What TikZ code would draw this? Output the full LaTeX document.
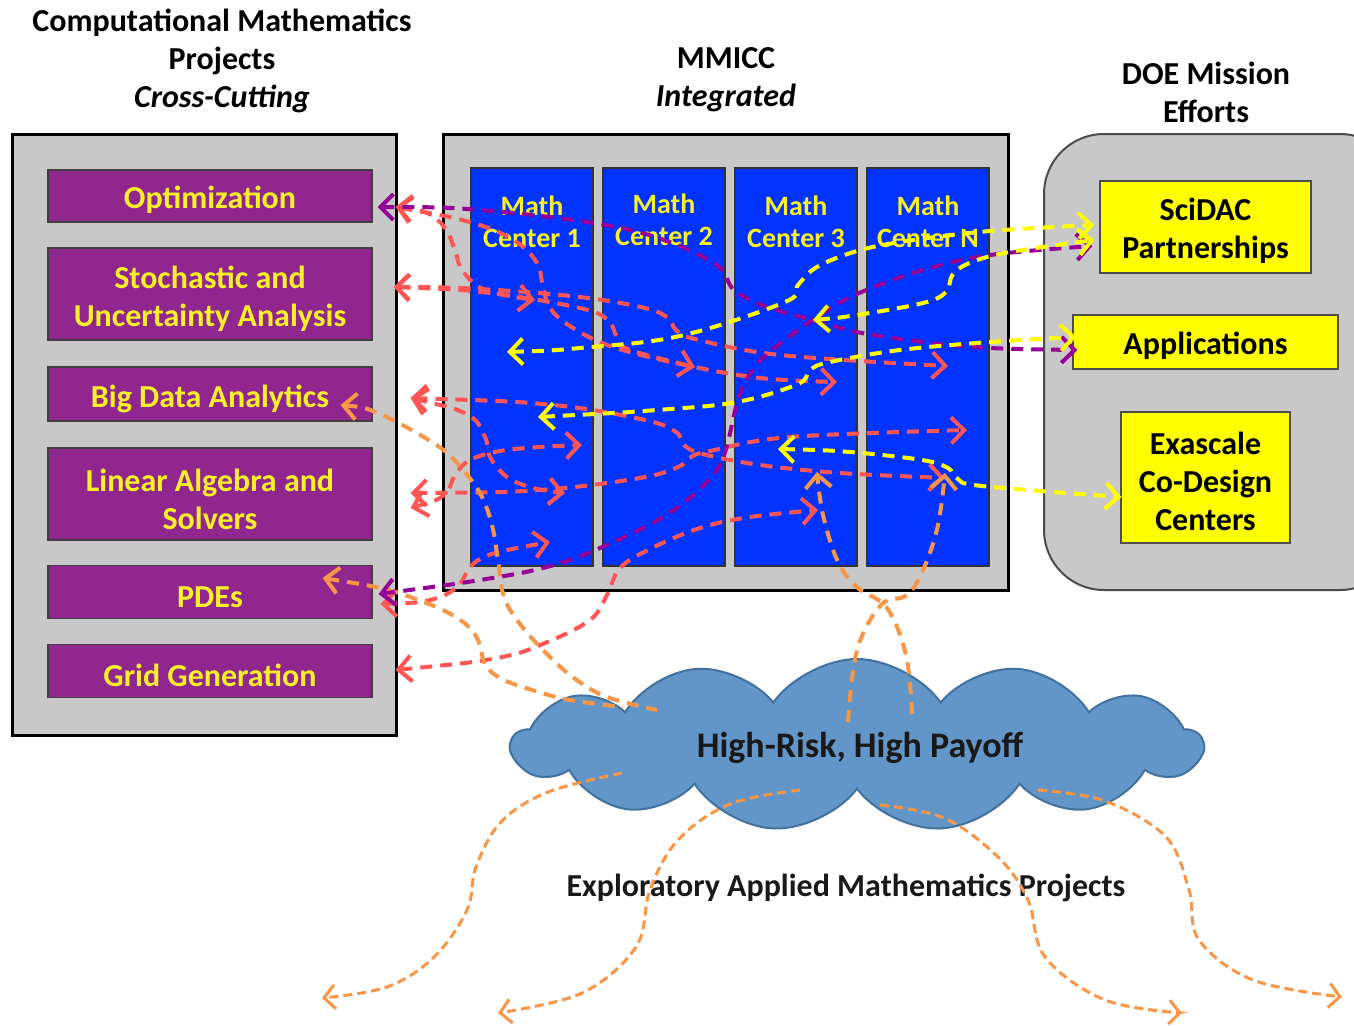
\documentclass[tikz,border=0pt]{standalone}
\usepackage{fontspec}
\setmainfont{Carlito}
\usetikzlibrary{arrows.meta,shapes.symbols}
\definecolor{panelgray}{RGB}{200,200,200}
\definecolor{topicpurple}{RGB}{146,38,143}
\definecolor{arrpurple}{RGB}{150,0,150}
\definecolor{arrred}{RGB}{255,85,85}
\definecolor{arrorange}{RGB}{247,150,70}
\definecolor{colblue}{RGB}{0,51,255}
\definecolor{cloudfill}{RGB}{98,150,200}
\definecolor{cloudline}{RGB}{65,113,156}
\definecolor{boxyellow}{RGB}{255,255,0}
\definecolor{txtyellow}{RGB}{250,240,40}
\newcommand\headfont{\fontsize{32}{38}\selectfont\bfseries}
\newcommand\topicfont{\fontsize{32}{38}\selectfont\bfseries}
\newcommand\colfont{\fontsize{28}{32}\selectfont\bfseries}
\begin{document}
\begin{tikzpicture}[x=1pt,y=-1pt,
  >={Straight Barb[length=13pt,width=26pt]},
  panel/.style={draw=black,line width=3pt,fill=panelgray},
  topic/.style={draw=black!75,line width=1.2pt,fill=topicpurple,minimum width=324pt,inner sep=0pt},
  topictext/.style={text=txtyellow,font=\topicfont,align=center},
  column/.style={draw=black!80,line width=1.2pt,fill=colblue,minimum width=122pt,minimum height=398pt,inner sep=0pt},
  coltext/.style={text=txtyellow,font=\colfont,align=center},
  mission/.style={draw=black!70,line width=1.2pt,fill=boxyellow,inner sep=0pt},
  missiontext/.style={text=black,font=\topicfont,align=center},
  heading/.style={font=\headfont,align=center,text=black},
  con/.style={line width=4pt,dash pattern=on 12pt off 8pt,<->},
  redcon/.style={con,draw=arrred},
  purcon/.style={con,draw=arrpurple},
  yelcon/.style={con,draw=boxyellow},
  orgcon/.style={line width=4pt,dash pattern=on 12pt off 8pt,draw=arrorange},
  thincon/.style={line width=3pt,dash pattern=on 9pt off 5pt,draw=arrorange,->,>={Straight Barb[length=11pt,width=24pt]}},
  smoothpath/.style={smooth,tension=0.6}
]
\useasboundingbox (0,0) rectangle (1354,1025);
\fill[white] (0,0) rectangle (1354,1025);

% headings
\node[heading] (titleL) at (222,61) {Computational Mathematics\\Projects\\\textit{Cross-Cutting}};
\node[heading] (titleM) at (726,80) {MMICC\\\textit{Integrated}};
\node[heading] (titleR) at (1206,92) {DOE Mission\\Efforts};

% panels
\draw[panel] (12,134) rectangle (396,735);
\draw[panel] (443,134) rectangle (1008,590);
\draw[draw=black!70,line width=2pt,fill=panelgray,rounded corners=60pt] (1044,134) rectangle (1400,590);

% topics
\node[topic,minimum height=52pt] (opt) at (210,196) {};
\node[topic,minimum height=92pt] (sto) at (210,294) {};
\node[topic,minimum height=54pt] (big) at (210,394) {};
\node[topic,minimum height=92pt] (lin) at (210,494) {};
\node[topic,minimum height=53pt] (pde) at (210,592) {};
\node[topic,minimum height=53pt] (grid) at (210,671) {};
\node[topictext] (optT) at (210,200) {Optimization};
\node[topictext] (stoT) at (210,299) {Stochastic and\\Uncertainty Analysis};
\node[topictext] (bigT) at (210,399) {Big Data Analytics};
\node[topictext] (linT) at (210,499) {Linear Algebra and\\Solvers};
\node[topictext] (pdeT) at (210,597) {PDEs};
\node[topictext] (gridT) at (210,675) {Grid Generation};

% math centers
\node[column] (col1) at (532,367) {};
\node[column] (col2) at (664,367) {};
\node[column] (col3) at (796,367) {};
\node[column] (col4) at (928,367) {};
\node[coltext] (c1t) at (532,222) {Math\\Center 1};
\node[coltext] (c2t) at (664,220) {Math\\Center 2};
\node[coltext] (c3t) at (796,222) {Math\\Center 3};
\node[coltext] (c4t) at (928,222) {Math\\Center N};

% mission boxes
\node[mission,minimum width=211pt,minimum height=92pt] (sci) at (1205.5,227) {};
\node[mission,minimum width=265pt,minimum height=54pt] (app) at (1205.5,342) {};
\node[mission,minimum width=169pt,minimum height=131pt] (exa) at (1205.5,477.5) {};
\node[missiontext] (sciT) at (1205.5,231) {SciDAC\\Partnerships};
\node[missiontext] (appT) at (1205.5,346) {Applications};
\node[missiontext] (exaT) at (1205.5,481) {Exascale\\Co-Design\\Centers};

% cloud
\node[cloud,cloud puffs=13,cloud puff arc=110,cloud ignores aspect,minimum width=690pt,minimum height=172pt,
      fill=cloudfill,draw=cloudline,line width=2pt] (cloud) at (857,745) {};
\node[font=\fontsize{36}{40}\selectfont\bfseries,text=black!90] (cloudT) at (860,748) {High-Risk, High Payoff};
\node[font=\fontsize{32}{36}\selectfont\bfseries,text=black!90] (expl) at (846,888) {Exploratory Applied Mathematics Projects};

% named ends
\coordinate (optP) at ([shift={(5,11)}]opt.east);
\coordinate (optR) at ([shift={(23,11)}]opt.east);
\coordinate (stoR) at ([shift={(21,-7)}]sto.east);
\coordinate (bigR) at ([shift={(38,4)}]big.east);
\coordinate (bigO) at ([shift={(-32,11)}]big.east);
\coordinate (linR1) at ([shift={(38,-1)}]lin.east);
\coordinate (linR2) at ([shift={(38,14)}]lin.east);
\coordinate (pdeP) at ([shift={(6,2)}]pde.east);
\coordinate (pdeR) at ([shift={(8,12)}]pde.east);
\coordinate (pdeO) at ([shift={(-50,-14)}]pde.east);
\coordinate (gridR) at ([shift={(23,-1)}]grid.east);
\coordinate (sciY1) at ([shift={(-5,-2)}]sci.west);
\coordinate (sciP) at ([shift={(-7,19)}]sci.west);
\coordinate (sciY2) at ([shift={(-5,13)}]sci.west);
\coordinate (appY) at ([shift={(4,-5)}]app.west);
\coordinate (appP) at ([shift={(5,8)}]app.west);
\coordinate (exaY) at ([shift={(1,19.5)}]exa.west);
\coordinate (r1) at (535,300);
\coordinate (r2) at (837,382);
\coordinate (r3) at (948,366);
\coordinate (r4) at (695,367);
\coordinate (r5) at (945,478);
\coordinate (r6) at (565,493);
\coordinate (r7) at (967,430);
\coordinate (r8) at (582,445);
\coordinate (r9) at (550,542);
\coordinate (r10) at (818,510);
\coordinate (y1) at (507,352);
\coordinate (y2) at (538,417);
\coordinate (y3) at (778,449);
\coordinate (y4) at (813,320);
\coordinate (o1) at (817,472);
\coordinate (o2) at (945,473);
\coordinate (cA) at (657,710);
\coordinate (cB) at (623,707);
\coordinate (cC) at (912,714);
\coordinate (cD) at (848,722);
\coordinate (cE) at (622,773);
\coordinate (cF) at (800,790);
\coordinate (cG) at (880,805);
\coordinate (cH) at (1038,790);
\coordinate (b1) at (322,998);
\coordinate (b2) at (498,1013);
\coordinate (b3) at (1182,1013);
\coordinate (b4) at (1342,997);

% red connectors
\draw[redcon] plot[smoothpath] coordinates {(optR) (427,213) (445,228) (455,250) (462,270) (485,290) (r1)};
\draw[redcon] plot[smoothpath] coordinates {(optR) (473,223) (515,241) (537,263) (543,287) (550,308) (570,326) (610,346) (680,364) (760,378) (r2)};
\draw[redcon] plot[smoothpath] coordinates {(stoR) (480,289) (580,297) (645,308) (668,318) (676,330) (695,339) (780,355) (r3)};
\draw[redcon] plot[smoothpath] coordinates {(stoR) (490,293) (580,308) (608,320) (617,337) (630,350) (r4)};
\draw[redcon] plot[smoothpath] coordinates {(bigR) (553,405) (645,420) (676,432) (684,445) (703,454) (760,465) (840,473) (r5)};
\draw[redcon] plot[smoothpath] coordinates {(bigR) (468,415) (485,437) (490,457) (507,477) (533,488) (r6)};
\draw[redcon] plot[smoothpath] coordinates {(linR1) (540,490) (640,478) (678,467) (691,457) (710,451) (790,437) (r7)};
\draw[redcon] plot[smoothpath] coordinates {(linR2) (444,495) (455,475) (470,460) (500,451) (540,447) (r8)};
\draw[redcon] plot[smoothpath] coordinates {(pdeR) (430,600) (457,587) (472,565) (495,553) (r9)};
\draw[redcon] plot[smoothpath] coordinates {(gridR) (497,658) (545,643) (590,620) (607,595) (620,568) (650,549) (700,528) (750,517) (r10)};

% orange connectors
\draw[orgcon,<-] plot[smoothpath] coordinates {(bigO) (380,414) (438,446) (463,470) (481,495) (492,525) (498,560) (504,597) (520,624) (546,653) (574,678) (607,697) (cA)};
\draw[orgcon,<-] plot[smoothpath] coordinates {(pdeO) (380,588) (413,598) (447,612) (470,628) (480,645) (485,665) (502,679) (532,690) (570,700) (cB)};
\draw[orgcon,->] plot[smoothpath] coordinates {(cC) (906,655) (887,608) (858,588) (838,562) (823,515) (o1)};
\draw[orgcon,->] plot[smoothpath] coordinates {(cD) (857,650) (881,605) (907,595) (924,568) (938,525) (o2)};

% purple connectors
\draw[purcon] plot[smoothpath] coordinates {(optP) (480,210) (600,224) (667,241) (718,266) (734,290) (767,307) (813,320) (857,332) (923,342) (990,348) (appP)};
\draw[purcon] plot[smoothpath] coordinates {(pdeP) (480,580) (547,567) (600,548) (663,517) (705,484) (724,455) (738,400) (752,371) (772,350) (817,317) (857,294) (923,270) (990,255) (sciP)};

% yellow connectors
\draw[yelcon] plot[smoothpath] coordinates {(y1) (580,348) (680,336) (785,302) (798,285) (817,267) (857,251) (907,241) (990,231) (sciY1)};
\draw[yelcon] plot[smoothpath] coordinates {(y4) (857,315) (923,303) (946,292) (953,274) (972,262) (1010,252) (sciY2)};
\draw[yelcon] plot[smoothpath] coordinates {(y2) (657,410) (737,402) (798,384) (810,370) (830,362) (900,350) (990,342) (appY)};
\draw[yelcon] plot[smoothpath] coordinates {(y3) (850,452) (922,460) (948,468) (958,479) (982,486) (exaY)};

% bottom exploratory arrows
\draw[thincon] plot[smoothpath] coordinates {(cE) (548,792) (501,822) (476,867) (467,910) (434,957) (387,987) (b1)};
\draw[thincon] plot[smoothpath] coordinates {(cF) (730,804) (678,840) (650,890) (636,947) (582,993) (b2)};
\draw[thincon] plot[smoothpath] coordinates {(cG) (944,818) (998,857) (1028,900) (1045,957) (1105,1000) (b3)};
\draw[thincon] plot[smoothpath] coordinates {(cH) (1105,801) (1166,837) (1189,890) (1199,940) (1253,980) (b4)};
\end{tikzpicture}
\end{document}
